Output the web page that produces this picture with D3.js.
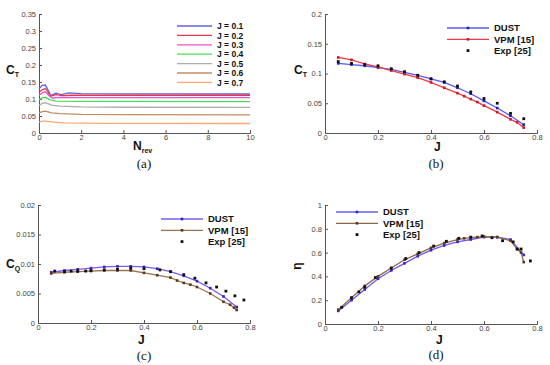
<!DOCTYPE html>
<html>
<head>
<meta charset="utf-8">
<title>Propeller performance</title>
<style>
html, body { margin:0; padding:0; background:#fff; }
svg { display:block; }
.tick text { font-family: 'Liberation Sans', Arial, sans-serif; font-size:7.5px; fill:#444; }
.domain, .tick line { stroke:#555; stroke-width:1px; }
.lab { font-family: 'Liberation Sans', Arial, sans-serif; font-weight:bold; fill:#111; }
.leg { font-family: 'Liberation Sans', Arial, sans-serif; font-weight:bold; font-size:9.5px; fill:#111; }
.cap { font-family: 'Liberation Serif', 'Times New Roman', serif; font-size:13px; fill:#111; }
</style>
<script src="https://d3js.org/d3.v7.min.js"></script>
</head>
<body>
<svg width="550" height="365"></svg>
<script>

// (a) CT history vs revolutions
var histJ = ["J = 0.1", "J = 0.2", "J = 0.3", "J = 0.4", "J = 0.5", "J = 0.6", "J = 0.7"];
var histColors = ["#6262e6", "#e03a4e", "#f050c4", "#48e05a", "#acacac", "#c48c62", "#ffa677"];
var histData = [
  [[0,0.130],[0.15,0.140],[0.3,0.141],[0.42,0.128],[0.55,0.110],[0.8,0.117],[1.05,0.113],[1.4,0.118],[2,0.116],[4,0.115],[10,0.1147]],
  [[0,0.120],[0.15,0.127],[0.3,0.131],[0.45,0.118],[0.55,0.108],[0.8,0.113],[1.1,0.110],[1.5,0.111],[4,0.111],[10,0.111]],
  [[0,0.110],[0.15,0.118],[0.3,0.121],[0.5,0.108],[0.65,0.103],[1,0.105],[2,0.104],[10,0.104]],
  [[0,0.098],[0.15,0.103],[0.3,0.105],[0.5,0.098],[0.8,0.094],[2,0.093],[10,0.092]],
  [[0,0.081],[0.15,0.087],[0.3,0.089],[0.6,0.082],[1,0.079],[2,0.077],[4,0.0758],[10,0.0755]],
  [[0,0.059],[0.15,0.063],[0.3,0.064],[0.6,0.059],[1,0.057],[2,0.055],[4,0.054],[10,0.0535]],
  [[0,0.032],[0.15,0.035],[0.3,0.035],[0.7,0.032],[1.2,0.030],[3,0.0285],[10,0.028]]
];

// (b) CT vs J
var dustJ = [0.05,0.1,0.15,0.2,0.25,0.3,0.35,0.4,0.45,0.5,0.55,0.6,0.65,0.7,0.75];
var dustCT = [0.117,0.115,0.113,0.110,0.107,0.102,0.097,0.091,0.085,0.076,0.066,0.054,0.042,0.029,0.014];
var vpmJ = [0.05,0.1,0.15,0.2,0.25,0.3,0.35,0.4,0.45,0.5,0.525,0.55,0.575,0.6,0.65,0.7,0.725,0.75];
var vpmCT = [0.127,0.123,0.116,0.111,0.105,0.099,0.093,0.085,0.076,0.067,0.062,0.057,0.052,0.046,0.035,0.023,0.018,0.009];
var expJ = [0.05,0.1,0.15,0.2,0.25,0.3,0.35,0.4,0.45,0.5,0.55,0.6,0.65,0.7,0.75];
var expCT = [0.120,0.117,0.115,0.113,0.108,0.103,0.097,0.091,0.086,0.079,0.069,0.058,0.050,0.033,0.024];

// (c) CQ vs J
var dustCQ = [0.0086,0.0089,0.0091,0.0093,0.0095,0.0096,0.0096,0.0095,0.0092,0.0087,0.0080,0.0071,0.0059,0.0045,0.0027];
var vpmJq = [0.05,0.1,0.15,0.2,0.25,0.3,0.35,0.4,0.45,0.5,0.525,0.55,0.575,0.6,0.65,0.7,0.725,0.74,0.75];
var vpmCQ = [0.0084,0.0086,0.0087,0.0088,0.0089,0.0089,0.0089,0.0085,0.0081,0.0077,0.0072,0.0068,0.0065,0.0061,0.0050,0.0036,0.0031,0.0026,0.0022];
var expJq = [0.063,0.1,0.125,0.15,0.18,0.2,0.25,0.3,0.35,0.4,0.46,0.5,0.55,0.592,0.634,0.674,0.709,0.743,0.777];
var expCQ = [0.0088,0.0087,0.0088,0.0088,0.0088,0.0089,0.0090,0.0091,0.0093,0.0092,0.0090,0.0087,0.0082,0.0076,0.0068,0.0061,0.0054,0.0046,0.0039];

// (d) efficiency vs J
var dustEta = [0.11,0.20,0.29,0.38,0.45,0.51,0.57,0.62,0.66,0.69,0.71,0.73,0.73,0.71,0.58];
var vpmJe = [0.05,0.1,0.15,0.2,0.25,0.3,0.35,0.4,0.45,0.5,0.525,0.55,0.575,0.6,0.65,0.7,0.725,0.74,0.75];
var vpmEta = [0.12,0.22,0.32,0.40,0.47,0.54,0.59,0.64,0.68,0.71,0.72,0.725,0.73,0.735,0.73,0.70,0.63,0.60,0.52];
var expJe = [0.063,0.1,0.128,0.15,0.19,0.25,0.305,0.355,0.41,0.458,0.505,0.55,0.593,0.63,0.67,0.71,0.725,0.74,0.775];
var expEta = [0.14,0.22,0.27,0.31,0.39,0.47,0.55,0.60,0.655,0.695,0.72,0.73,0.74,0.725,0.70,0.69,0.63,0.63,0.53];

var svg = d3.select("svg");
var fmt = d3.format("~g");

function zip(a, b) { return a.map(function(v, i) { return [v, b[i]]; }); }

function panel(p) {
  var x = d3.scaleLinear().domain(p.xd).range([p.x0, p.x1]);
  var y = d3.scaleLinear().domain(p.yd).range([p.y0, p.y1]);
  var g = svg.append("g");
  g.append("g").attr("transform", "translate(0," + p.y0 + ")")
    .call(d3.axisBottom(x).tickValues(p.xt).tickFormat(fmt).tickSize(-3).tickPadding(2));
  g.append("g").attr("transform", "translate(" + p.x0 + ",0)")
    .call(d3.axisLeft(y).tickValues(p.yt).tickFormat(fmt).tickSize(-3).tickPadding(3));
  return {g: g, x: x, y: y};
}

function series(P, pts, lineCol, markCol, ms) {
  var line = d3.line().x(function(d) { return P.x(d[0]); }).y(function(d) { return P.y(d[1]); });
  if (lineCol) P.g.append("path").datum(pts).attr("d", line)
    .attr("fill", "none").attr("stroke", lineCol).attr("stroke-width", 1.3);
  if (markCol) P.g.selectAll(null).data(pts).enter().append("rect")
    .attr("x", function(d) { return P.x(d[0]) - ms / 2; })
    .attr("y", function(d) { return P.y(d[1]) - ms / 2; })
    .attr("width", ms).attr("height", ms).attr("fill", markCol);
}

function legend(P, lx, ly, items) {
  items.forEach(function(it, i) {
    var yy = ly + i * 11.3;
    if (it.line) P.g.append("line").attr("x1", lx).attr("x2", lx + 42).attr("y1", yy).attr("y2", yy)
      .attr("stroke", it.line).attr("stroke-width", 1.3);
    P.g.append("rect").attr("x", lx + 21 - it.ms / 2).attr("y", yy - it.ms / 2)
      .attr("width", it.ms).attr("height", it.ms).attr("fill", it.mark);
    P.g.append("text").attr("class", "leg").attr("x", lx + 47).attr("y", yy + 3.4).text(it.name);
  });
}

function label(P, x, y, main, sub) {
  var t = P.g.append("text").attr("class", "lab").attr("x", x).attr("y", y).style("font-size", "12px").text(main);
  if (sub) t.append("tspan").attr("dy", 3).style("font-size", "7px").text(sub);
}

// ---- (a)
var A = panel({xd:[0,10], yd:[0,0.35], x0:39, x1:250, y0:133, y1:14,
  xt:[0,2,4,6,8,10], yt:[0,0.05,0.1,0.15,0.2,0.25,0.3,0.35]});
histData.forEach(function(s, i) { series(A, s, histColors[i], null, 0); });
histJ.forEach(function(name, i) {
  var yy = 26 + i * 9.4;
  A.g.append("line").attr("x1", 177).attr("x2", 212).attr("y1", yy).attr("y2", yy)
    .attr("stroke", histColors[i]).attr("stroke-width", 1.3);
  A.g.append("text").attr("class", "leg").attr("x", 217).attr("y", yy + 3.2).style("font-size", "8.5px").text(name);
});
label(A, 6, 74, "C", "T");
label(A, 133, 150, "N", "rev");
A.g.append("text").attr("class", "cap").attr("x", 144).attr("y", 168).attr("text-anchor", "middle").text("(a)");

// ---- (b)
var B = panel({xd:[0,0.8], yd:[0,0.2], x0:325, x1:537, y0:133, y1:14,
  xt:[0,0.2,0.4,0.6,0.8], yt:[0,0.05,0.1,0.15,0.2]});
series(B, zip(dustJ, dustCT), "#5a5af0", "#2222a8", 2.6);
series(B, zip(vpmJ, vpmCT), "#f03a48", "#c41e2e", 2.6);
series(B, zip(expJ, expCT), null, "#111", 2.8);
legend(B, 447, 28, [
  {name:"DUST", line:"#5a5af0", mark:"#2222a8", ms:2.6},
  {name:"VPM [15]", line:"#f03a48", mark:"#c41e2e", ms:2.6},
  {name:"Exp [25]", line:null, mark:"#111", ms:2.8}]);
label(B, 294, 74, "C", "T");
label(B, 434, 151, "J");
B.g.append("text").attr("class", "cap").attr("x", 436).attr("y", 168).attr("text-anchor", "middle").text("(b)");

// ---- (c)
var C = panel({xd:[0,0.8], yd:[0,0.02], x0:38, x1:250, y0:323, y1:205,
  xt:[0,0.2,0.4,0.6,0.8], yt:[0,0.005,0.01,0.015,0.02]});
series(C, zip(dustJ, dustCQ), "#7a5cf0", "#3a22b8", 2.6);
series(C, zip(vpmJq, vpmCQ), "#9c7350", "#5a3a1e", 2.6);
series(C, zip(expJq, expCQ), null, "#111", 2.8);
legend(C, 161, 219, [
  {name:"DUST", line:"#7a5cf0", mark:"#3a22b8", ms:2.6},
  {name:"VPM [15]", line:"#9c7350", mark:"#5a3a1e", ms:2.6},
  {name:"Exp [25]", line:null, mark:"#111", ms:2.8}]);
label(C, 6, 268, "C", "Q");
label(C, 138, 344, "J");
C.g.append("text").attr("class", "cap").attr("x", 144).attr("y", 360).attr("text-anchor", "middle").text("(c)");

// ---- (d)
var D = panel({xd:[0,0.8], yd:[0,1], x0:325, x1:537, y0:324, y1:205,
  xt:[0,0.2,0.4,0.6,0.8], yt:[0,0.2,0.4,0.6,0.8,1]});
series(D, zip(dustJ, dustEta), "#6a5cf0", "#3a22d0", 2.6);
series(D, zip(vpmJe, vpmEta), "#8c6848", "#5a3a1e", 2.6);
series(D, zip(expJe, expEta), null, "#111", 2.8);
legend(D, 336, 212, [
  {name:"DUST", line:"#6a5cf0", mark:"#3a22d0", ms:2.6},
  {name:"VPM [15]", line:"#8c6848", mark:"#5a3a1e", ms:2.6},
  {name:"Exp [25]", line:null, mark:"#111", ms:2.8}]);
D.g.append("text").attr("class", "lab").attr("x", 301).attr("y", 266).style("font-size", "12px")
  .attr("transform", "rotate(-90,301,266)").attr("text-anchor", "middle").text("η");
label(D, 436, 344, "J");
D.g.append("text").attr("class", "cap").attr("x", 436).attr("y", 359).attr("text-anchor", "middle").text("(d)");

</script>
</body>
</html>
